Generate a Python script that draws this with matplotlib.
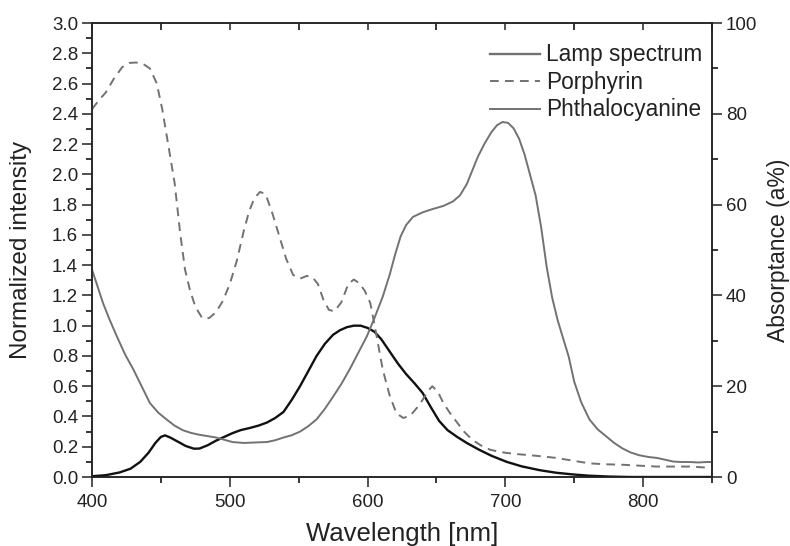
import matplotlib
matplotlib.use("Agg")
import matplotlib.pyplot as plt
from matplotlib.ticker import MultipleLocator, FormatStrFormatter

plt.rcParams['font.family'] = ['Liberation Sans', 'DejaVu Sans']

# Lamp spectrum (normalized intensity, left axis)
lamp_wl = [400, 410, 420, 428, 435, 441, 446, 450, 453, 457, 462, 468, 474, 478, 484,
           490, 496, 502, 508, 515, 521, 527, 533, 539, 545, 551, 557, 563, 569, 575,
           580, 585, 590, 595, 600, 605, 610, 616, 622, 628, 634, 640, 646, 652, 658,
           665, 672, 681, 690, 701, 712, 725, 737, 749, 760, 775, 790, 850]
lamp_int = [0.005, 0.012, 0.03, 0.055, 0.1, 0.16, 0.225, 0.265, 0.275, 0.26, 0.235, 0.205,
            0.187, 0.188, 0.21, 0.24, 0.265, 0.29, 0.31, 0.325, 0.34, 0.36, 0.39, 0.43,
            0.51, 0.6, 0.7, 0.8, 0.88, 0.94, 0.97, 0.99, 1.0, 1.0, 0.985, 0.96, 0.91, 0.83,
            0.75, 0.68, 0.62, 0.555, 0.46, 0.37, 0.31, 0.265, 0.225, 0.18, 0.14, 0.1,
            0.07, 0.045, 0.028, 0.017, 0.009, 0.003, 0.0, 0.0]

# Porphyrin absorptance (%), right axis
por_wl = [400, 405, 410, 416, 422, 427, 432, 437, 442, 447, 451, 456, 460, 464, 467.5,
          471, 475, 480, 485, 490, 495, 500, 505, 510, 514, 518, 522, 526, 531, 536,
          541, 546, 551, 556, 560, 564, 568, 572, 576, 581, 586, 590, 594, 598, 602,
          606, 611, 616, 621, 626, 631, 636, 640, 644, 647, 651, 655, 660, 665, 670,
          676, 682, 689, 695, 701, 710, 718, 728, 737, 749, 761, 773, 785, 797, 810,
          822, 834, 850]
por_abs = [81, 83, 84.7, 87.8, 90.3, 91.2, 91.3, 91, 90, 86.7, 81, 72, 64.7, 53.7, 45.7,
           41.3, 37.5, 35, 35, 36.3, 38.8, 42.5, 47.5, 54, 58.5, 61.5, 62.8, 62.3, 58, 53,
           48, 44.5, 43.7, 44.3, 44, 42.5, 39, 36.8, 36.5, 38.5, 42.5, 43.5, 42.7, 41, 38.3,
           32, 23.7, 18, 14, 13, 13.5, 15.3, 17, 19, 20, 18.8, 16.3, 14, 12, 10,
           8.2, 7, 6, 5.6, 5.3, 5, 4.8, 4.5, 4.2, 3.6, 3, 2.8, 2.7, 2.5, 2.3,
           2.3, 2.3, 2]

# Phthalocyanine absorptance (%), right axis
pht_wl = [400, 404, 408, 413, 418, 424, 430, 436, 442, 448, 454, 460, 466, 472, 478,
          484, 490, 496, 502, 510, 518, 527, 533, 539, 545, 551, 557, 563, 569, 575,
          581, 587, 593, 599.5, 605, 611, 616, 620, 624, 628, 633, 640, 647, 655, 662,
          667, 672, 676, 680, 685, 690, 694, 698, 702, 706, 710, 714, 718, 722, 726,
          730, 734, 738, 742, 746, 750, 755, 761, 767, 773, 779, 785, 791, 797, 804,
          810, 816, 822, 828, 834, 840, 846, 850]
pht_abs = [45.7, 42, 38.3, 34.5, 31, 27, 23.7, 20, 16.3, 14.2, 12.7, 11.3, 10.3, 9.7, 9.3,
           9, 8.7, 8.2, 7.7, 7.5, 7.6, 7.7, 8.1, 8.7, 9.2, 10, 11.2, 12.7, 15, 17.7,
           20.5, 23.7, 27.2, 31, 35, 39.7, 44.5, 49, 53, 55.5, 57.3, 58.3, 59, 59.7, 60.7,
           62, 64.5, 67.5, 70.5, 73.5, 76, 77.5, 78.2, 78, 76.8, 74.5, 71, 66.5, 62, 55,
           46.3, 39.5, 34.5, 30.5, 26.5, 21, 16.5, 12.7, 10.5, 9, 7.5, 6.3, 5.4, 4.8, 4.4,
           4.2, 3.8, 3.4, 3.3, 3.3, 3.2, 3.3, 3.3]

labels = ["Lamp spectrum", "Porphyrin", "Phthalocyanine"]

fig = plt.figure(figsize=(7.9, 5.46), dpi=100)
ax = fig.add_axes([92/790, 69/546, 620/790, 454/546])
ax2 = ax.twinx()

gray = '#727272'
l1, = ax.plot(lamp_wl, lamp_int, color='#111111', lw=1.7, zorder=3)
l2, = ax2.plot(por_wl, por_abs, color=gray, lw=1.4, dashes=(4.5, 3.2))
l3, = ax2.plot(pht_wl, pht_abs, color=gray, lw=1.4)

ax.set_xlim(400, 850)
ax.set_ylim(0, 3.0)
ax2.set_ylim(0, 100)

ax.xaxis.set_major_locator(MultipleLocator(100))
ax.xaxis.set_minor_locator(MultipleLocator(50))
ax.yaxis.set_major_locator(MultipleLocator(0.2))
ax.yaxis.set_minor_locator(MultipleLocator(0.1))
ax.yaxis.set_major_formatter(FormatStrFormatter('%.1f'))
ax2.yaxis.set_major_locator(MultipleLocator(20))
ax2.yaxis.set_minor_locator(MultipleLocator(10))

tc = '#222222'
for a in (ax, ax2):
    for s in a.spines.values():
        s.set_color(tc)
        s.set_linewidth(1.1)

ax.tick_params(axis='x', which='major', direction='out', length=7, width=1.1,
               labelsize=13.5, colors=tc, top=True, pad=5)
ax.tick_params(axis='x', which='minor', direction='out', length=4, width=1.1, top=True)
ax.tick_params(axis='y', which='major', direction='out', length=7, width=1.1,
               labelsize=13.5, colors=tc, pad=3)
ax.tick_params(axis='y', which='minor', direction='out', length=4, width=1.1)
# top ticks point inward
for t in ax.xaxis.get_major_ticks() + ax.xaxis.get_minor_ticks():
    t.tick2line.set_marker(3)
    t.tick2line.set_markersize(5)
ax2.tick_params(axis='y', which='major', direction='out', length=7, width=1.1,
                labelsize=13.5, colors=tc, pad=3)
ax2.tick_params(axis='y', which='minor', direction='out', length=4, width=1.1)

ax.set_xlabel("Wavelength [nm]", fontsize=18.5, color=tc, labelpad=8)
ax.set_ylabel("Normalized intensity", fontsize=17.5, color=tc, labelpad=14)
ax2.set_ylabel("Absorptance (a%)", fontsize=16.5, color=tc, labelpad=7)

leg = ax2.legend([l1, l2, l3], labels, loc='upper right', bbox_to_anchor=(0.985, 0.955),
                 frameon=False, fontsize=16.3, handlelength=2.2, handletextpad=0.3,
                 labelspacing=0.2, borderaxespad=0, borderpad=0)
for t in leg.get_texts():
    t.set_color(tc)
leg.legend_handles[0].set_color(gray)

fig.savefig("out.png", dpi=100)
